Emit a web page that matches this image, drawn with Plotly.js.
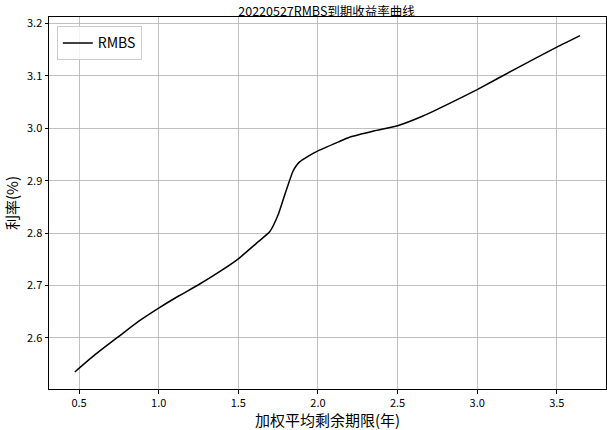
<!DOCTYPE html>
<html><head><meta charset="utf-8">
<script src="https://cdn.plot.ly/plotly-3.0.1.min.js"></script>
<style>body{margin:0;padding:0;background:#fff}</style>
</head><body><div id="chart" style="width:607px;height:430px"></div>
<script>
const seriesName = "RMBS";
const wal = [0.473, 0.60, 0.75, 0.875, 1.0, 1.125, 1.25, 1.375, 1.5, 1.615, 1.698, 1.75, 1.80, 1.843, 1.865, 1.885, 1.94, 2.0, 2.136, 2.198, 2.35, 2.5, 2.656, 2.83, 3.0, 3.25, 3.5, 3.646];
const rate = [2.535, 2.568, 2.603, 2.632, 2.657, 2.680, 2.7015, 2.725, 2.751, 2.781, 2.803, 2.835, 2.881, 2.918, 2.929, 2.936, 2.947, 2.957, 2.975, 2.983, 2.995, 3.005, 3.023, 3.048, 3.074, 3.115, 3.155, 3.177];
const xTicks = [0.5, 1.0, 1.5, 2.0, 2.5, 3.0, 3.5];
const yTicks = [2.6, 2.7, 2.8, 2.9, 3.0, 3.1, 3.2];
const font = "'Noto Sans CJK SC', 'DejaVu Sans', sans-serif";

Plotly.newPlot('chart', [{
  x: wal, y: rate, type: 'scatter', mode: 'lines', name: seriesName,
  line: {color: '#000000', width: 1.5, shape: 'spline', smoothing: 0.5}
}], {
  width: 607, height: 430,
  margin: {l: 49, r: 1, t: 17, b: 41},
  paper_bgcolor: '#fff', plot_bgcolor: '#fff',
  font: {family: font, color: '#000'},
  title: {text: '20220527RMBS到期收益率曲线', font: {size: 12.5, family: font, color: '#000'}, x: 0.538, xanchor: 'center', xref: 'container', yref: 'container', y: 0.974, yanchor: 'middle'},
  xaxis: {
    range: [0.311, 3.809], tickvals: xTicks, ticktext: xTicks.map(v => v.toFixed(1)),
    showgrid: true, gridcolor: '#b0b0b0', gridwidth: 0.8, zeroline: false,
    showline: true, linecolor: '#000', linewidth: 1, mirror: true,
    ticks: 'outside', ticklen: 3.5, tickcolor: '#000', tickfont: {size: 11, family: font},
    title: {text: '加权平均剩余期限(年)', font: {size: 15, family: font}, standoff: 4}
  },
  yaxis: {
    range: [2.5025, 3.2125], tickvals: yTicks, ticktext: yTicks.map(v => v.toFixed(1)),
    showgrid: true, gridcolor: '#b0b0b0', gridwidth: 0.8, zeroline: false,
    showline: true, linecolor: '#000', linewidth: 1, mirror: true,
    ticks: 'outside', ticklen: 3.5, tickcolor: '#000', tickfont: {size: 11, family: font},
    title: {text: '利率(%)', font: {size: 15, family: font}, standoff: 4}
  },
  showlegend: true,
  legend: {x: 0.014, y: 0.975, xanchor: 'left', yanchor: 'top', bgcolor: 'rgba(255,255,255,0.8)', bordercolor: '#cccccc', borderwidth: 1, font: {size: 14, family: font}, itemwidth: 30}
}, {displayModeBar: false, staticPlot: true});
</script></body></html>
